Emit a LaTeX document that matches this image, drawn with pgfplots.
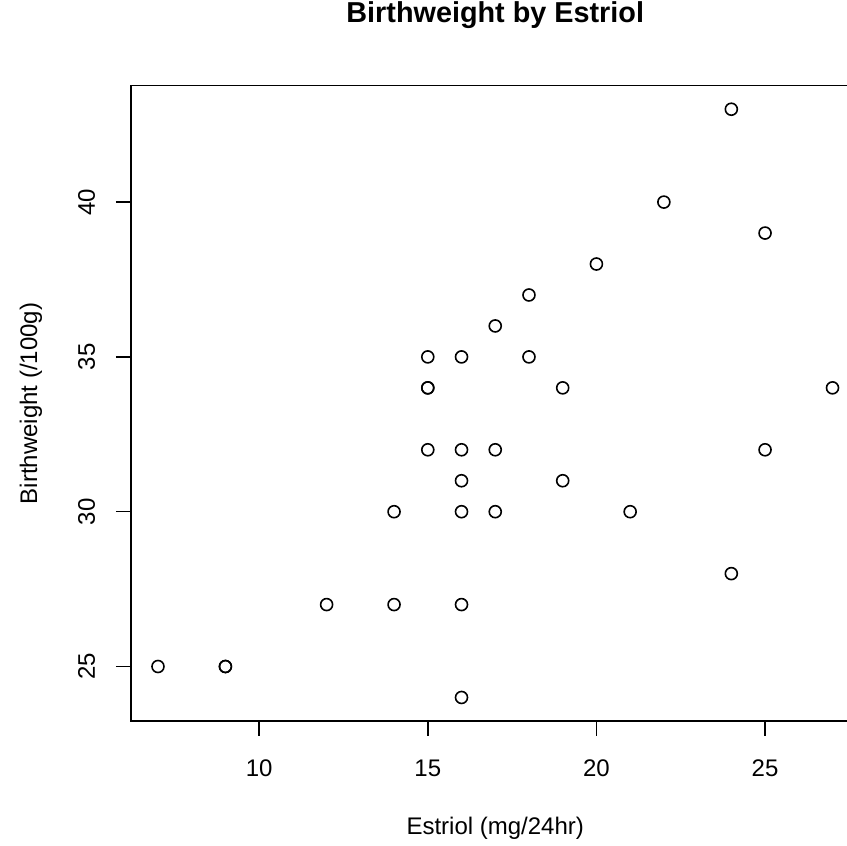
\documentclass[border=0pt]{standalone}
\usepackage{fontspec}
\setmainfont{Liberation Sans}
\usepackage{pgfplots}
\pgfplotsset{compat=1.18}
\begin{document}
\begin{tikzpicture}[font=\fontsize{12}{14}\selectfont]
\useasboundingbox (0,0) rectangle (423.5pt,423pt);
\clip (0,0) rectangle (423.5pt,423pt);
\begin{axis}[
  at={(65.5pt,62.5pt)}, anchor=south west,
  scale only axis, width=364.25pt, height=317.65pt,
  xmin=6.2, xmax=27.8, ymin=23.24, ymax=43.76,
  axis line style={line width=0.75pt, black},
  xtick={10,15,20,25}, ytick={25,30,35,40},
  xtick pos=bottom, ytick pos=left,
  tick align=outside,
  major tick length=7.5pt,
  tick style={line width=0.75pt, black},
  /pgf/number format/assume math mode=true,
  xticklabel style={anchor=base, inner sep=0pt},
  yticklabel style={rotate=90, anchor=base, inner sep=0pt},
  xticklabel shift=20.5pt,
  yticklabel shift=10.5pt,
  title={\fontsize{14.4}{16}\selectfont\bfseries Birthweight by Estriol},
  title style={at={(axis description cs:0.5,1.08)}, anchor=base, inner sep=0pt},
  xlabel={Estriol (mg/24hr)},
  xlabel style={at={(axis description cs:0.5,-0.1785)}, anchor=base, inner sep=0pt},
  ylabel={Birthweight (/100g)},
  ylabel style={at={(axis description cs:-0.129,0.5)}, rotate=0, anchor=base, inner sep=0pt},
  clip=false,
]
\addplot[only marks, mark=o, mark size=3pt, mark options={line width=0.8pt, black}] table {
x y
7 25
9 25
9 25
12 27
14 27
16 27
16 24
14 30
16 30
16 31
17 30
19 31
21 30
24 28
15 32
16 32
17 32
25 32
27 34
15 34
15 34
15 35
16 35
19 34
18 35
17 36
18 37
20 38
22 40
25 39
24 43
};
\end{axis}
\end{tikzpicture}
\end{document}
